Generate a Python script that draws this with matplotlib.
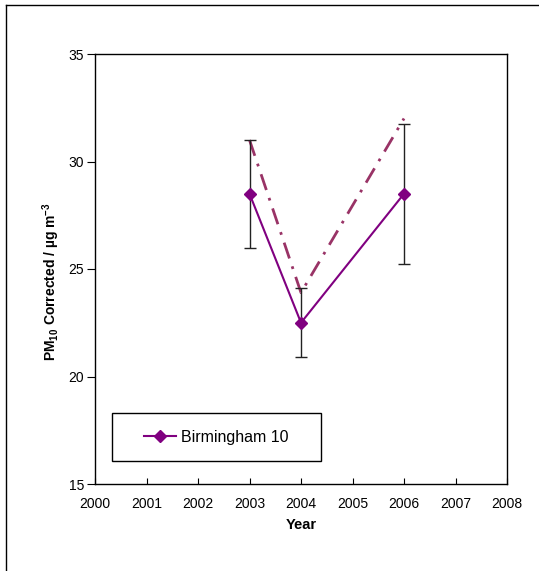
import matplotlib
matplotlib.use("Agg")
import matplotlib.pyplot as plt
from matplotlib.patches import Rectangle

plt.rcParams['font.family'] = ['Liberation Sans', 'DejaVu Sans']
plt.rcParams['mathtext.fontset'] = 'custom'
plt.rcParams['mathtext.rm'] = 'Liberation Sans'
plt.rcParams['mathtext.bf'] = 'Liberation Sans:bold'

# data
years = [2003, 2004, 2006]
pm10 = [28.5, 22.5, 28.5]
pm10_err = [2.5, 1.6, 3.25]
pm10_upper = [31.0, 23.9, 32.0]   # dash-dot line, not in legend
series_name = "Birmingham 10"

xticks = list(range(2000, 2009))
yticks = [15, 20, 25, 30, 35]

fig = plt.figure(figsize=(5.39, 5.71), dpi=100)
ax = fig.add_axes([95/539, 1-484/571, 412/539, 430/571])

# outer chart border (only top and left visible)
fig.add_artist(plt.Line2D([6/539, 6/539], [0, 1-5/571], color='black', lw=1))
fig.add_artist(plt.Line2D([6/539, 1], [1-5/571, 1-5/571], color='black', lw=1))

ax.plot(years, pm10_upper, color='#993366', lw=2, linestyle=(0, (6, 3, 1, 3)), zorder=2)
ax.errorbar(years, pm10, yerr=pm10_err, fmt='none', ecolor='#222222', elinewidth=1,
            capsize=4, capthick=1, zorder=3)
ax.plot(years, pm10, color='#800080', lw=1.5, marker='D', markersize=6,
        label=series_name, zorder=4)

ax.set_xlim(2000, 2008)
ax.set_ylim(15, 35)
ax.set_xticks(xticks)
ax.set_yticks(yticks)
ax.tick_params(axis='x', direction='in', length=4, labelsize=10, pad=9)
ax.tick_params(axis='y', direction='out', length=6, labelsize=10, pad=2)
for s in ax.spines.values():
    s.set_linewidth(1)

ax.set_xlabel("Year", fontsize=10.5, fontweight='bold')
ax.set_ylabel("PM$_{\\mathbf{10}}$ Corrected / \u00b5g m$^{\\mathbf{-3}}$",
              fontsize=10, fontweight='bold')
ax.xaxis.set_label_coords(0.5, -0.08)
ax.yaxis.set_label_coords(-0.08, 0.47)

# legend box
ax.add_patch(Rectangle((0.041, 0.0535), 0.5075, 0.1116, transform=ax.transAxes,
                       facecolor='white', edgecolor='black', lw=1, zorder=5))
ax.legend(loc='center', bbox_to_anchor=(0.041+0.5075/2, 0.0535+0.1116/2),
          frameon=False, fontsize=11.5, handlelength=2.0, handletextpad=0.3)

fig.savefig("out.png", dpi=100)
